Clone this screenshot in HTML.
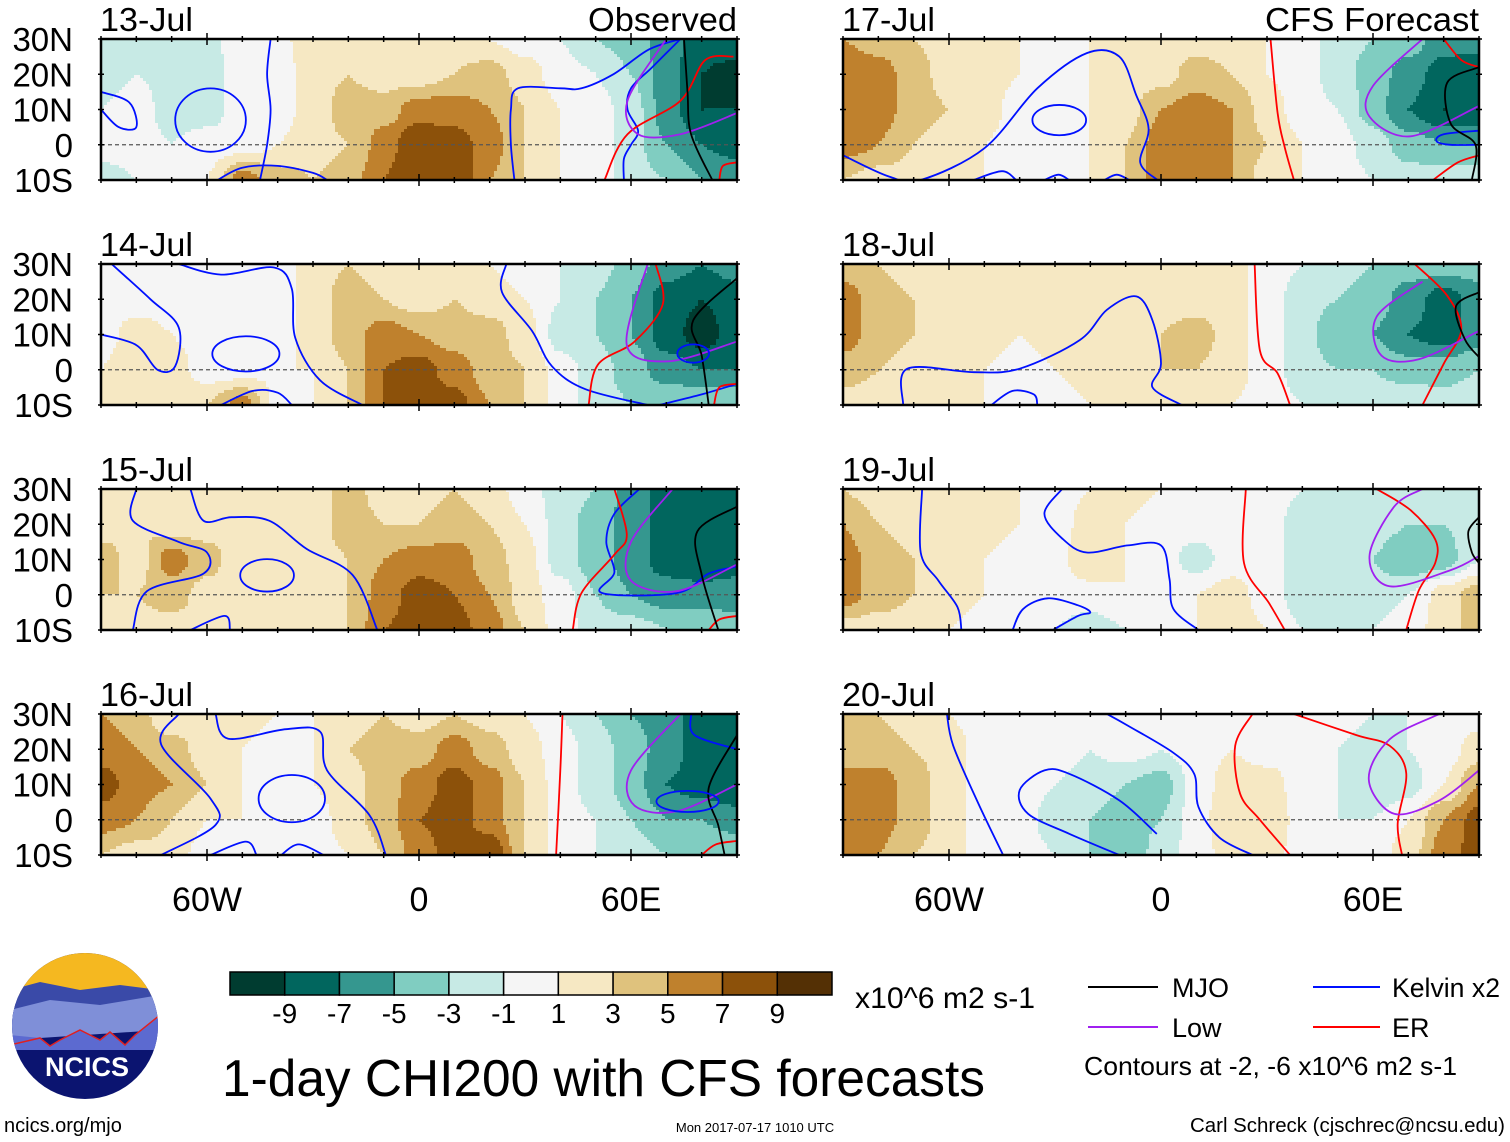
<!DOCTYPE html>
<html><head><meta charset="utf-8">
<style>
html,body{margin:0;padding:0;background:#fff;}
svg{display:block;font-family:"Liberation Sans",Arial,sans-serif;}
</style></head>
<body>
<svg id="fig" width="1510" height="1142" viewBox="0 0 1510 1142" xmlns="http://www.w3.org/2000/svg">
  <defs id="defs"></defs>
  <g id="panels"></g>

  <g id="colorbar"></g>
  <text x="855" y="1008" font-size="30" textLength="180" lengthAdjust="spacingAndGlyphs">x10^6 m2 s-1</text>
  <text x="222" y="1096" font-size="52" textLength="763" lengthAdjust="spacingAndGlyphs">1-day CHI200 with CFS forecasts</text>

  <g>
    <line x1="1088" y1="987" x2="1158" y2="987" stroke="#000" stroke-width="2"/>
    <text x="1172" y="997" font-size="27">MJO</text>
    <line x1="1313" y1="987" x2="1380" y2="987" stroke="#0010ff" stroke-width="2"/>
    <text x="1392" y="997" font-size="27" textLength="108" lengthAdjust="spacingAndGlyphs">Kelvin x2</text>
    <line x1="1088" y1="1027" x2="1158" y2="1027" stroke="#a020f0" stroke-width="2"/>
    <text x="1172" y="1037" font-size="27">Low</text>
    <line x1="1313" y1="1027" x2="1380" y2="1027" stroke="#ff0000" stroke-width="2"/>
    <text x="1392" y="1037" font-size="27">ER</text>
    <text x="1084" y="1075" font-size="26" textLength="373" lengthAdjust="spacingAndGlyphs">Contours at -2, -6 x10^6 m2 s-1</text>
  </g>

  <g>
    <clipPath id="lc"><circle cx="85" cy="1026" r="73"/></clipPath>
    <g clip-path="url(#lc)">
      <rect x="10" y="950" width="150" height="155" fill="#0b1470"/>
      <rect x="10" y="950" width="150" height="45" fill="#f5b820"/>
      <path d="M10 990 L40 982 L80 990 L120 985 L160 990 L160 1020 L10 1030Z" fill="#3a4aa8"/>
      <path d="M10 1010 L50 1000 L100 1005 L160 995 L160 1030 L10 1040Z" fill="#7f8fd8"/>
      <path d="M10 1035 L40 1038 L50 1046 L60 1040 L80 1030 L100 1040 L110 1032 L125 1045 L135 1035 L160 1015 L160 1050 L10 1050Z" fill="#5c6ad0"/>
      <path d="M10 1045 L40 1038 L50 1046 L60 1040 L80 1030 L100 1040 L110 1032 L125 1045 L135 1035 L160 1015" fill="none" stroke="#e02020" stroke-width="1.5"/>
    </g>
    <text x="87" y="1076" font-size="27" font-weight="bold" fill="#fff" text-anchor="middle">NCICS</text>
  </g>

  <text x="4" y="1132" font-size="20">ncics.org/mjo</text>
  <text x="755" y="1132" font-size="13" text-anchor="middle">Mon 2017-07-17 1010 UTC</text>
  <text x="1505" y="1132" font-size="20" text-anchor="end" textLength="315" lengthAdjust="spacingAndGlyphs">Carl Schreck (cjschrec@ncsu.edu)</text>
</svg>

<script>
// ===== data =====
const lons = [-90,-80,-70,-60,-50,-40,-30,-20,-10,0,10,20,30,40,50,60,70,80,90];
const lats = [30,20,10,0,-10];
const panelDates = ["13-Jul","14-Jul","15-Jul","16-Jul","17-Jul","18-Jul","19-Jul","20-Jul"];
const colorLevels = [-9,-7,-5,-3,-1,1,3,5,7,9];
const colorTickLabels = ["-9","-7","-5","-3","-1","1","3","5","7","9"];
const lonTickLabels = ["60W","0","60E"];
const lonTickValues = [-60,0,60];
const latTickLabels = ["30N","20N","10N","0","10S"];
const latTickValues = [30,20,10,0,-10];

const chi13 = [
 [-2,-2,-2,-1.5,0,0.5,2,2,2,1,2,1,0,-1,-3,-4,-6,-8,-7],
 [-2,-1,-1.5,-2,0,0,2,3,2,2,3,4,2,0,-1,-3,-6,-9,-10],
 [-1,0,-2,-2,0,0,2,4,4,6,6,5,3,1,0,-2,-6,-9,-9],
 [0,0,-1,0,0,1,2,3,6,9,8,6,3,1,0,-2,-5,-7,-8],
 [-2,-1,0,1,6,4,3,4,7,9,9,5,3,1,0,-2,-3,-5,-5]];
const chi14 = [
 [0,0,1,0,0,0,2,3,2,1,2,1,0,-1,-2,-4,-6,-7,-6],
 [0,0,0,0,0,0,2,4,3,2,3,2,1,-1,-3,-5,-8,-9,-8],
 [0,2,1,0,-0.5,0,2,4,6,5,4,4,2,-2,-3,-5,-8,-10,-8],
 [1,3,2,0,0,1,1,3,7,8,6,4,3,0,-2,-4,-6,-7,-7],
 [1,2,2,3,6,0,1,3,7,9,8,5,3,0,-2,-3,-3,-3,-3]];
const chi15 = [
 [2,2,2,2,2,3,2,4,2,2,3,2,0,-2,-3,-6,-8,-9,-7],
 [2,3,2,2,3,3,2,4,3,3,4,3,1,-2,-4,-6,-8,-9,-8],
 [4,2,6,4,1,3,2,3,5,6,6,4,2,-2,-4,-6,-8,-9,-8],
 [3,3,4,2,1,2,2,3,6,8,7,5,2,0,-3,-5,-6,-6,-6],
 [2,2,2,2,1,2,2,3,7,8,8,6,3,0,-2,-2,-3,-3,-4]];
const chi16 = [
 [5,4,1,2,2,1,1,2,3,2,3,2,1,-1,-3,-5,-6,-8,-7],
 [6,5,4,2,1,0,1,3,4,4,6,4,2,0,-2,-4,-6,-8,-9],
 [8,6,5,3,1,-1,1,2,4,6,8,6,3,0,-2,-4,-7,-8,-9],
 [6,5,3,1,1,0,0,2,4,7,8,6,3,0,-1,-3,-5,-5,-6],
 [3,2,2,0,1,0,0,1,3,6,8,9,3,0,-1,-2,-3,-3,-3]];
const chi17 = [
 [5,4,3,2,2,1,0,1,2,1,2,2,1,0,-2,-3,-4,-6,-6],
 [7,6,4,2,2,1,0,1,2,2,4,3,1,0,-2,-4,-6,-8,-9],
 [7,6,4,3,2,0,0,1,2,5,6,5,2,0,-1,-4,-7,-9,-9],
 [6,5,3,2,1,0,0,1,3,6,6,5,3,1,0,-2,-4,-5,-5],
 [3,2,2,2,1,1,-1,1,3,6,6,5,2,1,0,-1,-2,-2,-2]];
const chi18 = [
 [4,3,2,2,2,2,2,2,2,2,2,2,0,-1,-2,-3,-4,-4,-4],
 [6,4,3,2,2,2,2,2,2,2,2,2,0,-2,-3,-4,-6,-8,-6],
 [6,4,3,2,2,1,2,3,2,3,4,2,0,-2,-5,-5,-7,-8,-6],
 [4,3,2,2,1,0,1,2,2,3,3,2,0,-2,-3,-3,-4,-4,-3],
 [2,2,2,1,1,0,0,1,1,2,2,1,0,-1,-1,-2,-1,-2,-1]];
const chi19 = [
 [3,2,2,3,2,1,0,1,2,1,0,0,0,-1,-1,-1,-1,-2,-1],
 [5,3,2,2,2,1,0,2,1,0,0,0,0,-2,-2,-2,-3,-3,-2],
 [6,4,3,2,1,0,0,3,1,0,-2,0,0,-2,-3,-3,-5,-4,-1],
 [6,4,3,2,1,0,0,0,1,1,1,2,0,-2,-3,-2,-1,2,4],
 [2,2,2,1,0,-1,-1,-2,-1,0,1,2,1,-1,-2,-1,0,2,4]];
const chi20 = [
 [4,3,2,1,0,-1,0,0,0,0,0,0,0,0,0,-1,-1,0,0],
 [5,4,3,2,0,-1,0,-1,0,-1,0,1,0,0,-1,-2,-1,0,2],
 [5,6,4,2,0,0,-1,-2,-3,-4,0,2,2,0,-1,-3,-2,1,5],
 [5,6,4,2,0,0,-2,-3,-4,-3,0,3,3,0,-1,-1,1,5,8],
 [5,5,3,2,0,0,-1,-3,-5,-2,0,2,2,0,-1,0,2,6,8]];
const panelFields = [chi13,chi14,chi15,chi16,chi17,chi18,chi19,chi20];

// contour lines: [type, [[lon,lat],...]] ; loops: [type, [lon,lat,rxDeg,ryDeg]]
const lines13 = [
 ["kelvin",[[-42,30],[-43,20],[-42,10],[-43,0],[-45,-10]]],
 ["kelvin",[[-90,15],[-82,12],[-80,5],[-85,5],[-90,10]]],
 ["kelvin",[[-57,-10],[-50,-6.5],[-40,-6],[-30,-8],[-26,-10]]],
 ["kelvin",[[27,-10],[26,0],[26,10],[28,16],[40,16],[46,16],[55,20],[65,27],[74,30]]],
 ["kelvin",[[74,30],[66,22],[60,16],[59,10],[62,4],[60,0],[58,-4],[58,-10]]],
 ["er",[[52.5,-10],[59,3],[74,12.5],[81,24],[89,25]]],
 ["er",[[85,-10],[86,-6],[90,-5]]],
 ["low",[[70,30],[59,12.5],[62,3],[74,3],[90,9]]],
 ["mjo",[[75,30],[76,15],[77,3],[83,-10]]]];
const loops13 = [["kelvin",[-59,7,10,9]]];
const lines14 = [
 ["kelvin",[[-87,30],[-76,20],[-68,12],[-69,1],[-74,0],[-80,7],[-90,10]]],
 ["kelvin",[[-68,30],[-56,27],[-41,29],[-36,23],[-35,9],[-28,-3],[-16,-10]]],
 ["kelvin",[[-56,-10],[-47,-6],[-40,-6.5],[-36,-10]]],
 ["kelvin",[[24.7,30],[23.5,22],[32,11],[37.6,1],[47,-5.5],[64.7,-10]]],
 ["kelvin",[[68,-10],[80,-7],[90,-4]]],
 ["er",[[48,-10],[50.6,1.4],[61,8],[69,18.6],[67,30]]],
 ["er",[[83.5,-10],[85,-5],[90,-4]]],
 ["low",[[64.7,30],[58.8,7],[70.6,2.4],[90,8]]],
 ["mjo",[[90,26],[77.6,14],[80,4],[82,-10]]]];
const loops14 = [["kelvin",[-49,4.5,9.5,5]],["kelvin",[77.6,4.6,4.5,2.6]]];
const lines15 = [
 ["kelvin",[[-64.7,30],[-61,21],[-53,22],[-42.4,21],[-31.8,13],[-18.8,5.6],[-11.8,-10]]],
 ["kelvin",[[-80,30],[-81,21],[-68,15],[-60,12],[-61,6],[-77,1],[-81,-10]]],
 ["kelvin",[[-64.7,-10],[-55,-6],[-53.5,-10]]],
 ["kelvin",[[62.4,30],[55.3,23],[53,15],[55.3,6.4],[51.8,0.5],[73,0.5],[82,6],[90,8]]],
 ["er",[[55.3,30],[58.8,17],[55.3,11.4],[46,0.5],[43.5,-10]]],
 ["er",[[82,-10],[85,-7],[90,-6]]],
 ["low",[[71.8,30],[60,15],[60,4],[73,1],[90,8.6]]],
 ["mjo",[[90,25],[78.8,18],[80,5.7],[84.7,-10]]]];
const loops15 = [["kelvin",[-43,5.5,7.6,4.6]]];
const lines16 = [
 ["kelvin",[[-68,30],[-73,21.4],[-59,6],[-57.6,-1.5],[-73,-10]]],
 ["kelvin",[[-57.6,30],[-54,23],[-37.6,25.7],[-28,25],[-26,14],[-14,1.3],[-9.4,-10]]],
 ["kelvin",[[-59,-10],[-49,-6.2],[-46,-10]]],
 ["kelvin",[[-39,-10],[-34,-7],[-27,-10]]],
 ["kelvin",[[77,30],[78,24],[90,20]]],
 ["er",[[40.6,30],[40,14],[38.8,-10]]],
 ["er",[[80,-10],[84,-7],[90,-6]]],
 ["low",[[74,30],[60,14],[61,4],[73,2.4],[90,10]]],
 ["mjo",[[90,24],[82,9],[84.7,-1.6],[86.5,-10]]]];
const loops16 = [["kelvin",[-36,6,9.4,6.7]],["kelvin",[76,5.2,8.8,3]]];
const lines17 = [
 ["kelvin",[[-90,-3],[-77,-9],[-68,-10],[-50,-1],[-35,16],[-21,26],[-11.8,25],[-7,14],[-3.5,4.5],[-5.9,-5],[-1,-10]]],
 ["kelvin",[[-53,-10],[-45,-7.5],[-41,-10]]],
 ["kelvin",[[-33,-10],[-29,-8.5],[-26,-10]]],
 ["kelvin",[[-16,-10],[-12.5,-8.5],[-9,-10]]],
 ["kelvin",[[90,4],[80,3],[78,1],[82,0],[90,0]]],
 ["er",[[31,30],[33,9],[35,-0.7],[37.6,-10]]],
 ["er",[[80,30],[85,24],[90,22]]],
 ["er",[[77,-10],[84,-5],[90,-3]]],
 ["low",[[74,30],[60,16.7],[59,8],[70.6,2.4],[90,11]]],
 ["mjo",[[90,22],[81,17.6],[82,6],[89,0],[88,-10]]]];
const loops17 = [["kelvin",[-28.8,7,7.6,4.3]]];
const lines18 = [
 ["kelvin",[[-73,-10],[-71.8,0.3],[-53,-0.7],[-40,0.3],[-23,8.4],[-15.3,17],[-7,20.8],[-2.4,14],[0,1.7],[-2.4,-5],[5.9,-10]]],
 ["kelvin",[[-48,-10],[-42,-6],[-36,-7],[-35,-10]]],
 ["er",[[26.5,30],[28,5.5],[33,-1],[36.5,-10]]],
 ["er",[[71.8,30],[81,21],[85,11.4],[80,1.7],[74,-10]]],
 ["low",[[74,25],[61,15],[62.4,4],[73,3],[90,11]]],
 ["mjo",[[90,22],[83.5,18],[86,8.6],[90,3.6]]]];
const loops18 = [];
const lines19 = [
 ["kelvin",[[-67.6,30],[-68,12],[-63,4],[-57.6,-3.5],[-56.5,-10]]],
 ["kelvin",[[-28,30],[-33,23],[-28,16],[-21,12],[-9.4,14],[0,14],[2.4,4.5],[3.5,-4],[10.6,-10]]],
 ["kelvin",[[-42,-10],[-39,-4],[-32,-1],[-23.5,-3],[-20,-5],[-23.5,-6],[-30.6,-10]]],
 ["er",[[24,30],[23.5,9],[30.6,-2.4],[35,-10]]],
 ["er",[[61,30],[70.6,24],[77.6,15.7],[77.6,9],[73,1.3],[69.4,-10]]],
 ["low",[[74,30],[66,25],[59,11],[64.7,2.4],[82,7],[90,11]]],
 ["mjo",[[90,22],[87,18],[88,12],[90,9]]]];
const loops19 = [];
const lines20 = [
 ["kelvin",[[-60.6,30],[-58.8,21],[-51.8,4.8],[-44.7,-10]]],
 ["kelvin",[[-15.3,30],[-9.4,26.7],[3.5,19],[9.4,13],[10.6,3.6],[16.5,-5],[25.9,-10]]],
 ["kelvin",[[-11.8,-10],[-25.9,-4],[-37.6,1.7],[-40,8.4],[-33,14],[-25.9,13],[-11.8,5.5],[-1.2,-4]]],
 ["er",[[25.9,30],[21,21],[22.4,7.4],[28,0],[36.5,-10]]],
 ["er",[[37.6,30],[55.3,24],[64.7,21],[69.4,13.3],[67,-1],[68.2,-10]]],
 ["low",[[78.8,30],[64.7,22.8],[58.8,11.4],[66,1.7],[78.8,5.5],[90,14]]]];
const loops20 = [];
const panelLines = [lines13,lines14,lines15,lines16,lines17,lines18,lines19,lines20];
const panelLoops = [loops13,loops14,loops15,loops16,loops17,loops18,loops19,loops20];

// ===== drawing =====
const COLORS = ["#003c30","#01665e","#35978f","#80cdc1","#c7eae5","#f5f5f5","#f6e8c3","#dfc27d","#bf812d","#8c510a","#543005"];
const LINECOL = {kelvin:"#0010ff", er:"#ff0000", low:"#a020f0", mjo:"#000000"};
const NS = "http://www.w3.org/2000/svg";
function mk(tag, attrs, parent){const e=document.createElementNS(NS,tag);for(const k in attrs)e.setAttribute(k,attrs[k]);if(parent)parent.appendChild(e);return e;}
function colorIdx(v){let i=0;while(i<colorLevels.length&&v>=colorLevels[i])i++;return i;}

const PW=636, PH=141;
const colX=[101,843], rowY=[39,264,489,714];
const LON0=-90, LON1=90, LAT0=30, LAT1=-10;

function sample(field, lon, lat){
  let fi=(lon-lons[0])/10, fj=(lats[0]-lat)/10;
  fi=Math.max(0,Math.min(lons.length-1.0001,fi)); fj=Math.max(0,Math.min(lats.length-1.0001,fj));
  const i=Math.floor(fi), j=Math.floor(fj), a=fi-i, b=fj-j;
  const sa=a*a*(3-2*a), sb=b*b*(3-2*b);
  const v00=field[j][i], v10=field[j][i+1], v01=field[j+1][i], v11=field[j+1][i+1];
  return (v00*(1-sa)+v10*sa)*(1-sb)+(v01*(1-sa)+v11*sa)*sb;
}
function smoothPath(P){
  let d="M"+P[0][0].toFixed(1)+" "+P[0][1].toFixed(1);
  for(let i=0;i<P.length-1;i++){
    const p0=P[Math.max(0,i-1)],p1=P[i],p2=P[i+1],p3=P[Math.min(P.length-1,i+2)];
    const c1=[p1[0]+(p2[0]-p0[0])/6,p1[1]+(p2[1]-p0[1])/6];
    const c2=[p2[0]-(p3[0]-p1[0])/6,p2[1]-(p3[1]-p1[1])/6];
    d+=" C"+c1[0].toFixed(1)+" "+c1[1].toFixed(1)+" "+c2[0].toFixed(1)+" "+c2[1].toFixed(1)+" "+p2[0].toFixed(1)+" "+p2[1].toFixed(1);
  }
  return d;
}

const panels=document.getElementById('panels');
const defs=document.getElementById('defs');
panelFields.forEach((field,p)=>{
  const col=p<4?0:1, row=p%4;
  const x0=colX[col], y0=rowY[row];
  const xS=lon=>x0+(lon-LON0)/(LON1-LON0)*PW;
  const yS=lat=>y0+(LAT0-lat)/(LAT0-LAT1)*PH;
  const g=mk('g',{},panels);
  
  
  const cp=mk('clipPath',{id:'pc'+p},defs);
  mk('rect',{x:x0,y:y0,width:PW,height:PH},cp);
  const step=3;
  for(let py=0;py<PH;py+=step){
    const lat=LAT0-(py+step/2)/PH*(LAT0-LAT1);
    let runStart=0, runC=-1;
    for(let px=0;px<=PW;px+=step){
      let c=-2;
      if(px<PW){const lon=LON0+(px+step/2)/PW*(LON1-LON0);c=colorIdx(sample(field,lon,lat));}
      if(c!==runC){
        if(runC>=0){
          const r=mk('rect',{x:x0+runStart,y:y0+py,width:Math.min(px,PW)-runStart+0.5,height:Math.min(step,PH-py)+0.5,fill:COLORS[runC]},g);
          
          
        }
        runStart=px; runC=c;
      }
    }
  }
  const eq=mk('line',{x1:x0,x2:x0+PW,y1:yS(0),y2:yS(0),stroke:'#555','stroke-width':1.2,'stroke-dasharray':'4,3'},g);
  
  
  // contour lines
  const lg=mk('g',{'clip-path':'url(#pc'+p+')'},g);
  
  
  panelLines[p].forEach(([type,pts])=>{
    const P=pts.map(q=>[xS(q[0]),yS(q[1])]);
    const pa=mk('path',{d:smoothPath(P),fill:'none',stroke:LINECOL[type],'stroke-width':1.8},lg);
    
    
  });
  panelLoops[p].forEach(([type,e])=>{
    const el=mk('ellipse',{cx:xS(e[0]),cy:yS(e[1]),rx:e[2]*PW/180,ry:e[3]*PH/40,fill:'none',stroke:LINECOL[type],'stroke-width':1.8},lg);
    
    
  });
  const fr=mk('rect',{x:x0,y:y0,width:PW,height:PH,fill:'none',stroke:'#000','stroke-width':2.5},g);
  
  
  for(let lon=-90;lon<=90;lon+=10){
    const major=lonTickValues.includes(lon);
    const L=major?6:3;
    mk('line',{x1:xS(lon),x2:xS(lon),y1:y0-L,y2:y0+L,stroke:'#000','stroke-width':1.5},g);
    mk('line',{x1:xS(lon),x2:xS(lon),y1:y0+PH-L,y2:y0+PH+L,stroke:'#000','stroke-width':1.5},g);
  }
  latTickValues.forEach(lat=>{
    mk('line',{x1:x0-3,x2:x0+3,y1:yS(lat),y2:yS(lat),stroke:'#000','stroke-width':1.5},g);
    mk('line',{x1:x0+PW-3,x2:x0+PW+3,y1:yS(lat),y2:yS(lat),stroke:'#000','stroke-width':1.5},g);
  });
  const dt=mk('text',{x:x0-1,y:y0-8,'font-size':33,textLength:93,lengthAdjust:'spacingAndGlyphs'},g); dt.textContent=panelDates[p];
  
  
  if(row===0){
    const isObs=col===0;
    const t=mk('text',{x:x0+PW,y:y0-8,'font-size':33,'text-anchor':'end',textLength:isObs?149:214,lengthAdjust:'spacingAndGlyphs'},g);
    t.textContent=isObs?"Observed":"CFS Forecast";
    
    
  }
  if(col===0){
    latTickValues.forEach((lat,k)=>{
      const t=mk('text',{x:73,y:yS(lat)+12,'font-size':33,'text-anchor':'end'},g);
      t.textContent=latTickLabels[k];
      
      
    });
  }
  if(row===3){
    lonTickValues.forEach((lon,k)=>{
      const t=mk('text',{x:xS(lon),y:911,'font-size':34,'text-anchor':'middle'},g);
      t.textContent=lonTickLabels[k];
      
      
    });
  }
});

const cb=document.getElementById('colorbar');
const cbX0=230, cbX1=832, cbY=972, cbH=23, bw=(cbX1-cbX0)/COLORS.length;
COLORS.forEach((c,i)=>{
  const r=mk('rect',{x:cbX0+i*bw,y:cbY,width:bw,height:cbH,fill:c,stroke:'#000','stroke-width':1.5},cb);
  
  
});
colorTickLabels.forEach((s,i)=>{
  const t=mk('text',{x:cbX0+(i+1)*bw,y:1023,'font-size':28,'text-anchor':'middle'},cb);
  t.textContent=s;
  
  
});
</script>
</body></html>
